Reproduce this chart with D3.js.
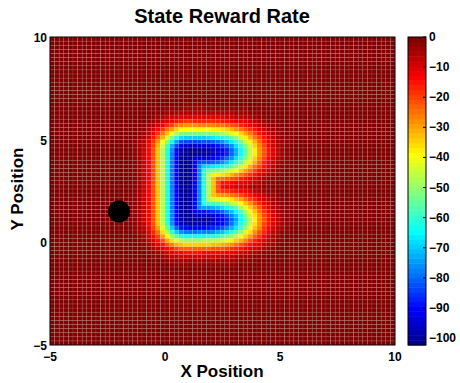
<!DOCTYPE html>
<html>
<head>
<meta charset="utf-8">
<script src="https://cdn.jsdelivr.net/npm/d3@7"></script>
<style>
  body { margin: 0; background: #fff; }
  text { font-family: "Liberation Sans", Arial, sans-serif; font-weight: bold; fill: #000; }
</style>
</head>
<body>
<div id="chart"></div>
<script>
// axis ticks
const xTicks = [-5, 0, 5, 10];
const yTicks = [-5, 0, 5, 10];
const cbarTicks = [0, -10, -20, -30, -40, -50, -60, -70, -80, -90, -100];

// reward field: C shaped penalty, its floor and blur widths
const cBar = [[0.9, 4.4], [0.9, 1.08]];              // vertical stroke
const cArms = [                                       // [corner, free end]
  [[0.9, 4.4], [3.6, 4.4]],
  [[0.9, 1.08], [3.6, 1.08]]
];
const rewardMin = -102.3;
const blur = 0.8;
const endBlur = 0.86;
const gridStep = 0.2;

// agent position (black dot)
const agent = [-2, 1.5];

const W = 460, H = 383;
const plot = { left: 50, right: 395, top: 37, bottom: 345 };

const svg = d3.select('#chart').append('svg')
  .attr('width', W).attr('height', H);

const x = d3.scaleLinear().domain([-5, 10]).range([plot.left, plot.right]);
const y = d3.scaleLinear().domain([-5, 10]).range([plot.bottom, plot.top]);

// matlab style jet(64)
const clamp = v => Math.max(0, Math.min(1, v));
const jet = d3.range(64).map(i => {
  const t = (i + 1) / 64;
  const r = clamp(Math.min(4 * t - 1.5, -4 * t + 4.5));
  const g = clamp(Math.min(4 * t - 0.5, -4 * t + 3.5));
  const b = clamp(Math.min(4 * t + 0.5, -4 * t + 2.5));
  return d3.rgb(r * 255, g * 255, b * 255).toString();
});
const colorIdx = d3.scaleQuantize().domain([rewardMin, 0]).range(jet);

function erf(z) {
  const s = Math.sign(z); z = Math.abs(z);
  const t = 1 / (1 + 0.3275911 * z);
  const p = t * (0.254829592 + t * (-0.284496736 + t * (1.421413741 + t * (-1.453152027 + t * 1.061405429))));
  return s * (1 - p * Math.exp(-z * z));
}
const Phi = z => 0.5 * (1 + erf(z / Math.SQRT2));
const gauss = d2 => Math.exp(-d2 / (2 * blur * blur));

function local(px, py, a, b) {
  const dx = b[0] - a[0], dy = b[1] - a[1];
  const L = Math.hypot(dx, dy);
  const ux = dx / L, uy = dy / L;
  const s = (px - a[0]) * ux + (py - a[1]) * uy;
  const dn = (px - a[0]) * uy - (py - a[1]) * ux;
  return { s, dn, L };
}

function reward(px, py) {
  // bar: plain distance
  const q = local(px, py, cBar[0], cBar[1]);
  const sc = Math.max(0, Math.min(q.L, q.s)) - q.s;
  let w = gauss(q.dn * q.dn + sc * sc);
  // arms: soft taper towards the free end
  cArms.forEach(([c, e]) => {
    const r = local(px, py, c, e);
    const wa = r.s < 0
      ? gauss(r.dn * r.dn + r.s * r.s)
      : gauss(r.dn * r.dn) * Phi((r.L - r.s) / endBlur);
    w = Math.max(w, wa);
  });
  return rewardMin * w;
}

// --- Heatmap cells ---
const cells = [];
const n = Math.round(15 / gridStep);
for (let i = 0; i < n; i++) {
  for (let j = 0; j < n; j++) {
    const x0 = -5 + i * gridStep, y0 = -5 + j * gridStep;
    cells.push({ x0, y0, v: reward(x0 + gridStep / 2, y0 + gridStep / 2) });
  }
}

svg.append('g')
  .selectAll('rect')
  .data(cells)
  .join('rect')
    .attr('x', d => x(d.x0))
    .attr('y', d => y(d.y0 + gridStep))
    .attr('width', x(gridStep) - x(0))
    .attr('height', y(0) - y(gridStep))
    .attr('fill', d => colorIdx(d.v))
    .attr('stroke', 'rgba(255,255,255,0.16)')
    .attr('stroke-width', 0.6);

// agent
svg.append('circle')
  .attr('cx', x(agent[0]))
  .attr('cy', y(agent[1]))
  .attr('r', 11)
  .attr('fill', '#000');

// frame
svg.append('rect')
  .attr('x', plot.left).attr('y', plot.top)
  .attr('width', plot.right - plot.left).attr('height', plot.bottom - plot.top)
  .attr('fill', 'none').attr('stroke', '#000').attr('stroke-width', 1);

const fmt = v => (v < 0 ? '\u2212' + Math.abs(v) : '' + v);

// --- Axes labels ---
svg.append('g').selectAll('text')
  .data(xTicks).join('text')
    .attr('x', d => x(d)).attr('y', 361)
    .attr('text-anchor', 'middle')
    .style('font-size', '12px')
    .text(fmt);

svg.append('g').selectAll('text')
  .data(yTicks).join('text')
    .attr('x', 47).attr('y', d => y(d) + 5)
    .attr('text-anchor', 'end')
    .style('font-size', '12px')
    .text(fmt);

svg.append('text')
  .attr('x', 222).attr('y', 23)
  .attr('text-anchor', 'middle')
  .style('font-size', '20px')
  .text('State Reward Rate');

svg.append('text')
  .attr('x', 222).attr('y', 377)
  .attr('text-anchor', 'middle')
  .style('font-size', '17px')
  .text('X Position');

svg.append('text')
  .attr('transform', 'translate(23,189) rotate(-90)')
  .attr('text-anchor', 'middle')
  .style('font-size', '17px')
  .text('Y Position');

// --- Colorbar ---
const cb = { left: 408, right: 426 };
const cy = d3.scaleLinear().domain([rewardMin, 0]).range([plot.bottom, plot.top]);
const bandH = (plot.bottom - plot.top) / jet.length;

svg.append('g').selectAll('rect')
  .data(jet).join('rect')
    .attr('x', cb.left)
    .attr('y', (d, i) => plot.bottom - (i + 1) * bandH)
    .attr('width', cb.right - cb.left)
    .attr('height', bandH + 0.5)
    .attr('fill', d => d);

svg.append('rect')
  .attr('x', cb.left).attr('y', plot.top)
  .attr('width', cb.right - cb.left).attr('height', plot.bottom - plot.top)
  .attr('fill', 'none').attr('stroke', '#000').attr('stroke-width', 1);

svg.append('g').selectAll('line')
  .data(cbarTicks).join('line')
    .attr('x1', cb.right - 3).attr('x2', cb.right)
    .attr('y1', d => cy(d)).attr('y2', d => cy(d))
    .attr('stroke', '#000');

svg.append('g').selectAll('text')
  .data(cbarTicks).join('text')
    .attr('x', 429).attr('y', d => cy(d) + 4)
    .style('font-size', '12px')
    .text(fmt);
</script>
</body>
</html>
